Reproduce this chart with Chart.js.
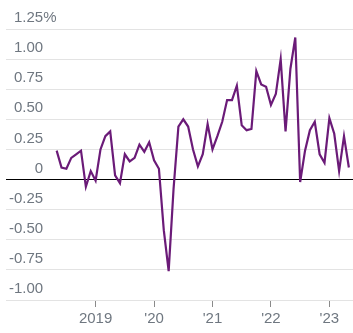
<!DOCTYPE html>
<html>
<head>
<meta charset="utf-8">
<script src="https://cdn.jsdelivr.net/npm/chart.js@4"></script>
<style>
  html, body { margin: 0; padding: 0; background: #fff; }
  #wrap { width: 353px; height: 333px; position: relative; }
</style>
</head>
<body>
<div id="wrap"><canvas id="chart"></canvas></div>
<script>
// monthly change, May 2018 - May 2023
const months = [
  '2018-05', '2018-06', '2018-07', '2018-08', '2018-09', '2018-10', '2018-11', '2018-12',
  '2019-01', '2019-02', '2019-03', '2019-04', '2019-05', '2019-06', '2019-07', '2019-08',
  '2019-09', '2019-10', '2019-11', '2019-12',
  '2020-01', '2020-02', '2020-03', '2020-04', '2020-05', '2020-06', '2020-07', '2020-08',
  '2020-09', '2020-10', '2020-11', '2020-12',
  '2021-01', '2021-02', '2021-03', '2021-04', '2021-05', '2021-06', '2021-07', '2021-08',
  '2021-09', '2021-10', '2021-11', '2021-12',
  '2022-01', '2022-02', '2022-03', '2022-04', '2022-05', '2022-06', '2022-07', '2022-08',
  '2022-09', '2022-10', '2022-11', '2022-12',
  '2023-01', '2023-02', '2023-03', '2023-04', '2023-05'
];
const changes = [
  0.24, 0.10, 0.09, 0.18, 0.21, 0.24, -0.06, 0.07,
  -0.01, 0.25, 0.36, 0.40, 0.035, -0.03, 0.21, 0.15,
  0.18, 0.29, 0.23, 0.31,
  0.16, 0.09, -0.42, -0.76, -0.08, 0.44, 0.50, 0.44,
  0.25, 0.11, 0.21, 0.46,
  0.25, 0.36, 0.48, 0.66, 0.66, 0.78, 0.45, 0.41,
  0.42, 0.90, 0.79, 0.77,
  0.62, 0.71, 1.00, 0.40, 0.92, 1.18, -0.02, 0.24,
  0.41, 0.48, 0.21, 0.14,
  0.51, 0.38, 0.07, 0.36, 0.10
];
const yearTickMonths = ['2019-01', '2020-01', '2021-01', '2022-01', '2023-01'];
const yearTickLabels = ['2019', "'20", "'21", "'22", "'23"];
const yTicks = [-1.0, -0.75, -0.5, -0.25, 0, 0.25, 0.5, 0.75, 1.0, 1.25];

const points = months.map((m, i) => ({ x: i, y: changes[i] }));
const yearTickPos = yearTickMonths.map(m => months.indexOf(m));

const labelFont = { family: "'Liberation Sans', Arial, sans-serif", size: 15 };
const labelColor = '#6f7780';

// puts the % sign after the top y label, hanging past the right-aligned numbers
const percentSign = {
  id: 'percentSign',
  afterDraw(chart) {
    const y = chart.scales.y;
    const item = y._labelItems && y._labelItems.find(it => it.label === '1.25');
    if (!item) return;
    const ctx = chart.ctx;
    ctx.save();
    ctx.font = `${labelFont.size}px ${labelFont.family}`;
    ctx.fillStyle = labelColor;
    ctx.textAlign = 'left';
    ctx.textBaseline = 'middle';
    ctx.fillText('%', item.options.translation[0], item.options.translation[1]);
    ctx.restore();
  }
};

new Chart(document.getElementById('chart'), {
  type: 'line',
  data: {
    datasets: [{
      data: points,
      borderColor: '#6b1b78',
      borderWidth: 2.2,
      pointRadius: 0,
      tension: 0,
      fill: false
    }]
  },
  options: {
    responsive: true,
    maintainAspectRatio: false,
    animation: false,
    layout: { padding: { left: 6, right: 0, top: 29, bottom: 2 } },
    plugins: { legend: { display: false }, tooltip: { enabled: false } },
    scales: {
      x: {
        type: 'linear',
        min: -10.4,
        max: 60.85,
        afterBuildTicks: s => { s.ticks = yearTickPos.map(v => ({ value: v })); },
        grid: {
          drawOnChartArea: false,
          drawTicks: true,
          tickLength: 7,
          tickWidth: 1,
          tickColor: '#8a8a8a'
        },
        border: { display: false },
        ticks: {
          font: labelFont,
          color: labelColor,
          padding: 3,
          maxRotation: 0,
          autoSkip: false,
          callback: v => yearTickLabels[yearTickPos.indexOf(v)]
        }
      },
      y: {
        min: -1.0,
        max: 1.25,
        afterBuildTicks: s => { s.ticks = yTicks.map(v => ({ value: v })); },
        afterFit: s => { s.width = 0; },
        grid: {
          drawTicks: false,
          lineWidth: 1,
          color: ctx => ctx.tick && ctx.tick.value === 0 ? '#000000' : '#e3e3e3'
        },
        border: { display: false },
        ticks: {
          mirror: true,
          crossAlign: 'far',
          padding: 3,
          labelOffset: -11,
          font: labelFont,
          color: labelColor,
          callback: v => v === 0 ? '0' : v.toFixed(2)
        }
      }
    }
  },
  plugins: [percentSign]
});
</script>
</body>
</html>
